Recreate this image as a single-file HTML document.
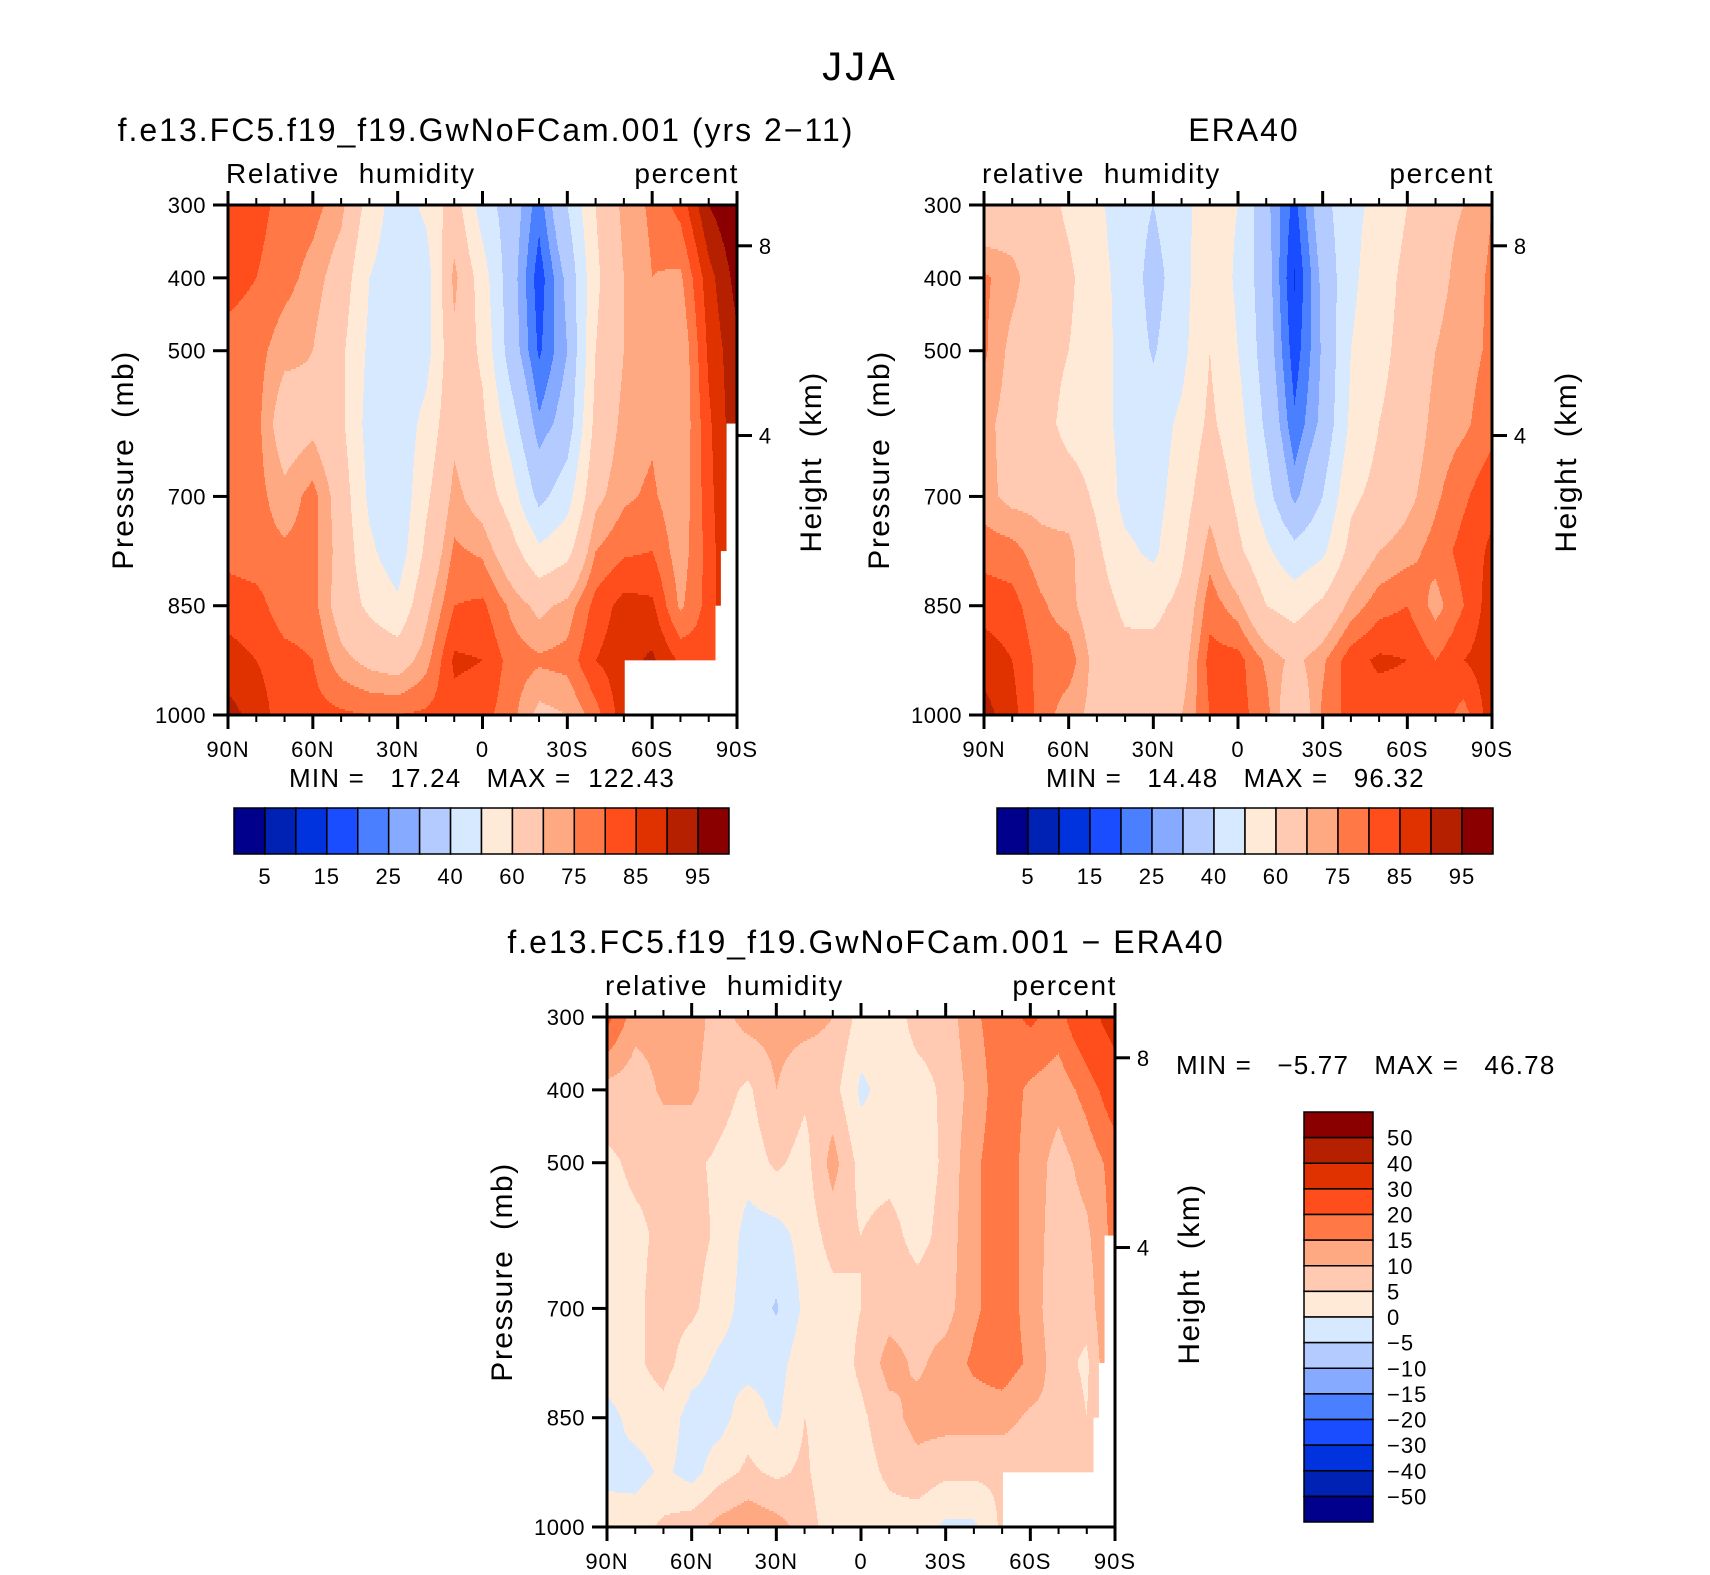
<!DOCTYPE html>
<html><head><meta charset="utf-8"><style>
html,body{margin:0;padding:0;background:#fff;}
svg{display:block;font-family:"Liberation Sans",sans-serif;}
text{white-space:pre;fill:#000;}
</style></head><body>
<svg id="chart" width="1710" height="1575" viewBox="0 0 1710 1575" xmlns="http://www.w3.org/2000/svg">
<rect x="0" y="0" width="1710" height="1575" fill="#fff"/>
<text x="860" y="80" font-size="40" letter-spacing="3" text-anchor="middle">JJA</text>
<g id="p1"></g>
<g id="p2"></g>
<g id="p3"></g>
<g id="cb"></g>
</svg>
<script>
// ---- data ----
const lats = [90,80,70,60,50,40,30,20,10,0,-10,-20,-30,-40,-50,-60,-70,-80,-90];
const plevs = [300,400,500,600,700,775,850,925,1000];
const rhLevels = [5,10,15,20,25,30,40,50,60,70,75,80,85,90,95];
const rhLabels = ["5","15","25","40","60","75","85","95"];
const diffLevels = [-50,-40,-30,-20,-15,-10,-5,0,5,10,15,20,30,40,50];
const diffLabels = ["50","40","30","20","15","10","5","0","\u22125","\u221210","\u221215","\u221220","\u221230","\u221240","\u221250"];
const colors = ["#00008c","#0022b4","#0033dd","#1a4dff","#4a80ff","#85aaff","#b3cbff","#d7e9ff","#ffead8","#ffcab1","#ffa983","#ff7845","#ff4e1c","#e03200","#b52000","#8a0000"];
const xTickLats = [90,60,30,0,-30,-60,-90];
const xTickLabels = ["90N","60N","30N","0","30S","60S","90S"];
const pTicks = [300,400,500,700,850,1000];
const hTicks = [8,4];
// model RH: one column per latitude, values 300 -> 1000 mb
const rhModel = [
 [82,82,78,77,77,78,83,87,92],[82,80,77,77,77,77,82,85,88],[78,77,72,65,72,76,77,82,82],
 [77,73,70,68,77,77,77,80,82],[72,66,62,62,66,67,66,72,81],[56,50,48,46,48,52,58,68,80],
 [45,44,44,43,42,44,52,66,80],[52,45,46,53,58,62,68,73,81],[65,72,68,68,72,76,80,86,83],
 [45,55,58,62,66,74,81,85,82],[35,34,35,45,55,64,74,78,77],[22,17,19,26,37,52,68,76,68],
 [40,32,30,34,46,57,72,77,70],[60,58,60,63,68,75,82,85,78],[72,70,70,72,74,79,87,88,null],
 [76,75,74,74,76,80,86,91,null],[82,74,70,70,71,72,74,84,null],[95,88,86,84,83,82,82,null,null],
 [100,97,94,null,null,null,null,null,null]];
const rhEra = [
 [62,76,76,72,72,78,83,88,92],[65,72,68,67,68,77,82,85,87],[65,65,65,65,68,72,76,78,78],
 [58,62,60,56,66,72,72,78,72],[52,53,54,54,58,62,65,67,68],[45,47,47,47,47,52,58,63,64],
 [40,36,39,45,46,48,57,64,66],[47,46,47,52,55,58,63,66,70],[55,58,60,62,67,73,78,82,80],
 [50,48,50,54,58,62,72,82,82],[32,34,35,38,44,52,60,74,77],[18,14.5,17,21,28,43,56,68,62],
 [36,32,31,32,40,48,62,74,76],[48,48,50,52,58,63,72,83,82],[52,55,57,60,63,70,78,86,82],
 [60,63,64,65,68,73,80,85,82],[68,68,70,72,74,77,73,80,84],[70,72,73,74,79,82,80,85,78],
 [75,76,76,78,84,86,88,88,88]];
const rhDiff = [
 [22,8,4,3,3,3,-2,-1,2],[12,7,6,4,4,4,2,-2,3],[12,11,6,6,7,7,3,1,6],
 [12,11,6,7,6,2,-2,-2,8],[8,7,4,4,2,-1,-2,3,12],[12,4,2,-2,-2,-2,3,6,14],
 [12,10,6,-2,-5.5,-2,-1,4,12],[12,6,3,2,1,3,5,6,8],[10,7,12,7,3,2,3,1,2],
 [3,-1,3,5,5,6,4,3,1],[2,2,3,7,8,12,8,6,3],[7,3,2,3,8,9,12,8,2],
 [7,6,6,7,8,12,12,6,-1],[14,12,14,14,14,16,12,6,-1],[18,18,18,18,18,18,12,6,null],
 [21,14,13,13,13,14,9,6,null],[18,12,8,7,6,7,9,8,null],[26,17,12,9,7,4,5,null,null],
 [35,24,17,null,null,null,null,null,null]];
// missing-data (below ground) boxes: lat east edge, top pressure
const maskLat = [-50.3,-82.4,-84.3,-86.3];
const maskTop = [925,850,775,600];

// ---- helpers ----
const NS="http://www.w3.org/2000/svg";
function mk(parent,tag,attrs,txt){const e=document.createElementNS(NS,tag);for(const k in attrs)e.setAttribute(k,attrs[k]);if(txt!==undefined)e.textContent=txt;parent.appendChild(e);return e;}
function filled(d){return d.map(col=>{const c=col.slice();for(let i=1;i<c.length;i++)if(c[i]===null)c[i]=c[i-1];return c;});}
function stdP(z){return 1013.25*Math.pow(1-2.25577e-5*z*1000,5.25588);}
function levelIndex(v,lv){let i=0;while(i<lv.length&&v>=lv[i])i++;return i;}

function drawPanel(g,o){
  const x0=o.x,y0=o.y,w=o.w,h=o.h;
  const xS=lat=>x0+(90-lat)/180*w;
  const yS=p=>y0+(p-300)/700*h;
  const d=filled(o.data);
  function val(lat,p){
    let fi=(90-lat)/10; let i=Math.min(17,Math.max(0,Math.floor(fi))); let tx=fi-i;
    let j=0; while(j<7&&p>plevs[j+1])j++; let ty=(p-plevs[j])/(plevs[j+1]-plevs[j]);
    const a=d[i][j],b=d[i+1][j],c=d[i][j+1],e=d[i+1][j+1];
    return (a*(1-tx)+b*tx)*(1-ty)+(c*(1-tx)+e*tx)*ty;
  }
  const field=mk(g,"g",{});
  
  
  const step=2;
  for(let py=0;py<h;py+=step){
    const p=300+(py+step/2)/h*700;
    let start=0,cur=-1;
    for(let px=0;px<=w;px++){
      let ci=-1;
      if(px<w){const lat=90-(px+0.5)/w*180;ci=levelIndex(val(lat,p),o.levels);}
      if(ci!==cur){
        if(cur>=0){const r=mk(field,"rect",{x:x0+start,y:y0+py,width:px-start+0.6,height:step+0.6,fill:colors[cur]});
          
          }
        cur=ci;start=px;
      }
    }
  }
  if(o.mask){
    for(let k=0;k<maskLat.length;k++){
      const r=mk(g,"rect",{x:xS(maskLat[k]),y:yS(maskTop[k]),width:xS(-90)-xS(maskLat[k]),height:yS(1000)-yS(maskTop[k]),fill:"#fff"});
      
      
    }
  }
  const fr=mk(g,"rect",{x:x0,y:y0,width:w,height:h,fill:"none",stroke:"#000","stroke-width":3});
  
  
  for(let lat=90;lat>=-90;lat-=10){
    const major=lat%30===0, L=major?14:7, x=xS(lat);
    const t1=mk(g,"line",{x1:x,x2:x,y1:y0+h,y2:y0+h+L,stroke:"#000","stroke-width":major?3:2});
    
    
    const t2=mk(g,"line",{x1:x,x2:x,y1:y0,y2:y0-L,stroke:"#000","stroke-width":major?3:2});
    
    
  }
  xTickLats.forEach((lat,k)=>{
    const t=mk(g,"text",{x:xS(lat),y:y0+h+42,"font-size":22,"letter-spacing":1,"text-anchor":"middle"},xTickLabels[k]);
    
    
  });
  pTicks.forEach(p=>{
    const l=mk(g,"line",{x1:x0-15,x2:x0,y1:yS(p),y2:yS(p),stroke:"#000","stroke-width":3});
    
    
    const t=mk(g,"text",{x:x0-22,y:yS(p)+8,"font-size":22,"letter-spacing":0.5,"text-anchor":"end"},String(p));
    
    
  });
  hTicks.forEach(z=>{
    const y=yS(stdP(z));
    const l=mk(g,"line",{x1:x0+w,x2:x0+w+15,y1:y,y2:y,stroke:"#000","stroke-width":3});
    
    
    const t=mk(g,"text",{x:x0+w+28,y:y+8,"font-size":22,"text-anchor":"middle"},String(z));
    
    
  });
  let t;
  t=mk(g,"text",{x:o.titleX,y:y0-64,"font-size":32,"letter-spacing":2,"text-anchor":"middle"},o.title);
  
  
  t=mk(g,"text",{x:x0-2,y:y0-22,"font-size":28,"letter-spacing":1.6},o.var);
  
  
  t=mk(g,"text",{x:x0+w+2,y:y0-22,"font-size":28,"letter-spacing":1.6,"text-anchor":"end"},"percent");
  
  
  t=mk(g,"text",{x:0,y:0,"font-size":30,"letter-spacing":1.5,"text-anchor":"middle",transform:`translate(${x0-95},${y0+h/2}) rotate(-90)`},"Pressure  (mb)");
  
  
  t=mk(g,"text",{x:0,y:0,"font-size":30,"letter-spacing":1.5,"text-anchor":"middle",transform:`translate(${x0+w+84},${y0+h/2+2}) rotate(-90)`},"Height  (km)");
  
  
  t=mk(g,"text",{x:o.mmX,y:o.mmY,"font-size":26,"letter-spacing":1.2},o.minmax);
  
  
}

drawPanel(document.getElementById('p1'),{x:228,y:205,w:509,h:510,data:rhModel,levels:rhLevels,mask:true,
  title:"f.e13.FC5.f19_f19.GwNoFCam.001 (yrs 2\u221211)",titleX:486,var:"Relative  humidity",
  minmax:"MIN =   17.24   MAX =  122.43",mmX:289,mmY:787});
drawPanel(document.getElementById('p2'),{x:984,y:205,w:508,h:510,data:rhEra,levels:rhLevels,mask:false,
  title:"ERA40",titleX:1244,var:"relative  humidity",
  minmax:"MIN =   14.48   MAX =   96.32",mmX:1046,mmY:787});
drawPanel(document.getElementById('p3'),{x:607,y:1017,w:508,h:510,data:rhDiff,levels:diffLevels,mask:true,
  title:"f.e13.FC5.f19_f19.GwNoFCam.001 \u2212 ERA40",titleX:866,var:"relative  humidity",
  minmax:"MIN =   \u22125.77   MAX =   46.78",mmX:1176,mmY:1074});

// ---- colorbars ----
const cb=document.getElementById('cb');
function hbar(x0,y0,w,h){
  const bw=w/colors.length;
  colors.forEach((c,i)=>{
    const r=mk(cb,"rect",{x:x0+i*bw,y:y0,width:bw,height:h,fill:c,stroke:"#000","stroke-width":1.5});
    
    
  });
  rhLabels.forEach((s,k)=>{
    const t=mk(cb,"text",{x:x0+(2*k+1)*bw,y:y0+h+30,"font-size":22,"letter-spacing":1,"text-anchor":"middle"},s);
    
    
  });
}
hbar(234,808,495,46);
hbar(997,808,496,46);
(function(){
  const x0=1304,y0=1112,w=69,h=410,bh=h/colors.length;
  for(let i=0;i<colors.length;i++){
    const r=mk(cb,"rect",{x:x0,y:y0+i*bh,width:w,height:bh,fill:colors[colors.length-1-i],stroke:"#000","stroke-width":1.5});
    
    
  }
  diffLabels.forEach((s,k)=>{
    const t=mk(cb,"text",{x:x0+w+14,y:y0+(k+1)*bh+8,"font-size":22,"letter-spacing":1},s);
    
    
  });
})();
</script>
</body></html>
